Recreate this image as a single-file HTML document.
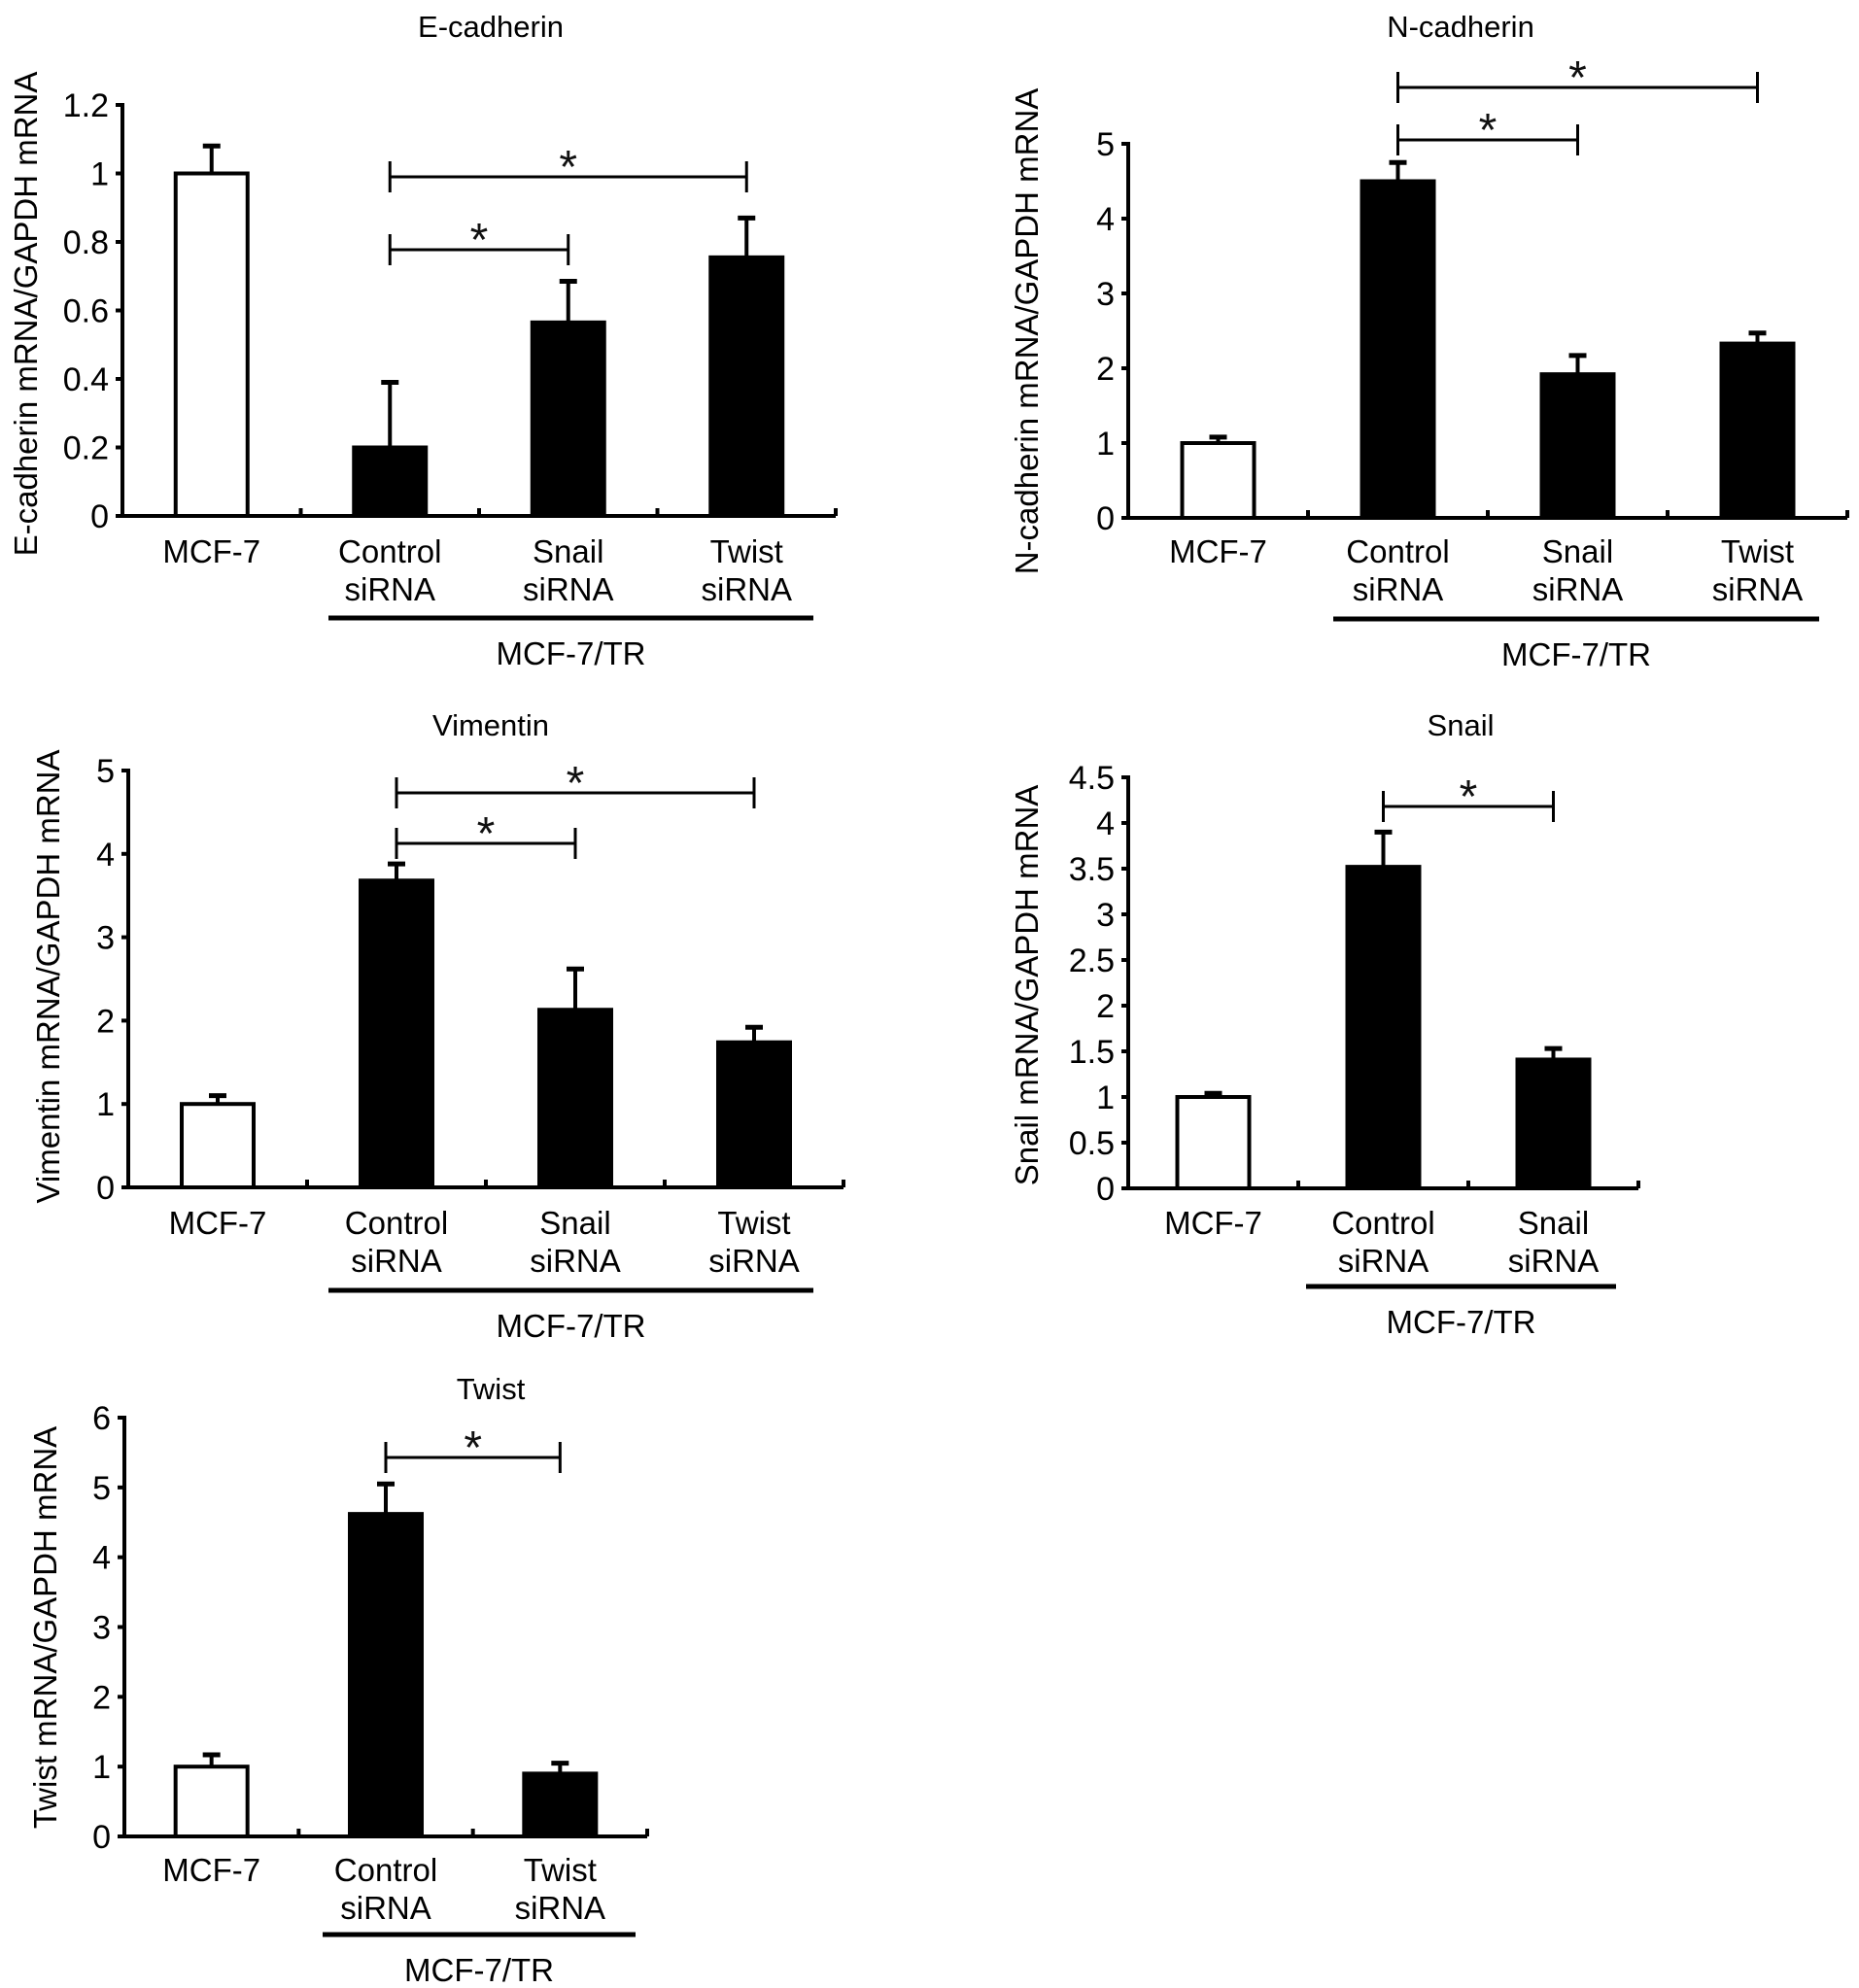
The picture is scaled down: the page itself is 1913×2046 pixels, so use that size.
<!DOCTYPE html>
<html><head><meta charset="utf-8"><style>
html,body{margin:0;padding:0;background:#fff;}
svg{display:block;font-family:"Liberation Sans",Arial,sans-serif;}
</style></head><body>
<svg id="fig" width="1913" height="2046" viewBox="0 0 1913 2046" xmlns="http://www.w3.org/2000/svg"></svg>
<script>
const ecadValues=[1.0,0.2,0.565,0.755];
const ecadErrors=[0.08,0.19,0.12,0.115];
const ecadCats=[["MCF-7"],["Control","siRNA"],["Snail","siRNA"],["Twist","siRNA"]];
const ecadTicks=["0","0.2","0.4","0.6","0.8","1","1.2"];
const ncadValues=[1.0,4.5,1.92,2.33];
const ncadErrors=[0.08,0.25,0.25,0.14];
const ncadCats=[["MCF-7"],["Control","siRNA"],["Snail","siRNA"],["Twist","siRNA"]];
const ncadTicks=["0","1","2","3","4","5"];
const vimValues=[1.0,3.68,2.13,1.74];
const vimErrors=[0.1,0.2,0.49,0.18];
const vimCats=[["MCF-7"],["Control","siRNA"],["Snail","siRNA"],["Twist","siRNA"]];
const vimTicks=["0","1","2","3","4","5"];
const snailValues=[1.0,3.52,1.41];
const snailErrors=[0.04,0.38,0.12];
const snailCats=[["MCF-7"],["Control","siRNA"],["Snail","siRNA"]];
const snailTicks=["0","0.5","1","1.5","2","2.5","3","3.5","4","4.5"];
const twistValues=[1.0,4.62,0.9];
const twistErrors=[0.17,0.43,0.15];
const twistCats=[["MCF-7"],["Control","siRNA"],["Twist","siRNA"]];
const twistTicks=["0","1","2","3","4","5","6"];

const NS="http://www.w3.org/2000/svg";
const svg=document.getElementById('fig');
function mk(tag,attrs,parent,txt){const e=document.createElementNS(NS,tag);for(const k in attrs)e.setAttribute(k,attrs[k]);if(txt!==undefined)e.textContent=txt;parent.appendChild(e);return e;}

function panel(cfg){
  const g=mk('g',{},svg);
  
  
  const n=cfg.values.length;
  const cw=(cfg.xEnd-cfg.x0)/n;
  const ymax=parseFloat(cfg.ticks[cfg.ticks.length-1]);
  const ys=v=>cfg.y0-(v/ymax)*(cfg.y0-cfg.yTop);
  const xc=i=>cfg.x0+cw*(i+0.5);
  const t=mk('text',{x:cfg.titleX,y:cfg.titleY+11,'font-size':31,'text-anchor':'middle'},g,cfg.title);
  
  
  const yl=mk('text',{x:0,y:0,'font-size':33,'text-anchor':'middle',transform:`translate(${cfg.ylX+12},${cfg.ylY}) rotate(-90)`},g,cfg.ylabel);
  
  
  mk('line',{x1:cfg.x0,y1:cfg.yTop-2,x2:cfg.x0,y2:cfg.y0+2,stroke:'#000','stroke-width':4},g);
  mk('line',{x1:cfg.x0,y1:cfg.y0,x2:cfg.xEnd,y2:cfg.y0,stroke:'#000','stroke-width':4},g);
  cfg.ticks.forEach(tk=>{
    const y=ys(parseFloat(tk));
    mk('line',{x1:cfg.x0-7,y1:y,x2:cfg.x0,y2:y,stroke:'#000','stroke-width':4},g);
    const tl=mk('text',{x:cfg.x0-14,y:y+12,'font-size':34,'text-anchor':'end'},g,tk);
    
    
  });
  for(let i=1;i<=n;i++){const x=cfg.x0+cw*i;mk('line',{x1:x,y1:cfg.y0-8,x2:x,y2:cfg.y0,stroke:'#000','stroke-width':4},g);}
  const bw=74;
  cfg.values.forEach((v,i)=>{
    const x=xc(i),y=ys(v),ye=ys(v+cfg.errors[i]);
    mk('line',{x1:x,y1:y,x2:x,y2:ye,stroke:'#000','stroke-width':4},g);
    mk('line',{x1:x-9,y1:ye,x2:x+9,y2:ye,stroke:'#000','stroke-width':5},g);
    const b=mk('rect',{x:x-bw/2,y:y,width:bw,height:cfg.y0-y,fill:i===0?'#fff':'#000',stroke:'#000','stroke-width':4},g);
    
    
    cfg.cats[i].forEach((ln,j)=>{
      const c=mk('text',{x:x,y:cfg.labY+12+j*39,'font-size':33,'text-anchor':'middle'},g,ln);
      
      
    });
  });
  const gl=mk('line',{x1:cfg.grpX1,y1:cfg.grpY,x2:cfg.grpX2,y2:cfg.grpY,stroke:'#000','stroke-width':5},g);
  
  
  const gt=mk('text',{x:(cfg.grpX1+cfg.grpX2)/2,y:cfg.grpY+48,'font-size':33,'text-anchor':'middle'},g,'MCF-7/TR');
  
  
  cfg.brackets.forEach(br=>{
    const a=xc(br[0]),b=xc(br[1]),y=br[2];
    const bg=mk('g',{},g);
    
    
    mk('line',{x1:a,y1:y,x2:b,y2:y,stroke:'#000','stroke-width':3},bg);
    mk('line',{x1:a,y1:y-16,x2:a,y2:y+16,stroke:'#000','stroke-width':3},bg);
    mk('line',{x1:b,y1:y-16,x2:b,y2:y+16,stroke:'#000','stroke-width':3},bg);
    mk('text',{x:(a+b)/2,y:y+6,'font-size':48,'text-anchor':'middle',fill:'#111'},bg,'*');
  });
}
panel({name:'e-cadherin',title:'E-cadherin',titleX:505,titleY:27,ylabel:'E-cadherin mRNA/GAPDH mRNA',ylX:26,ylY:323,
  x0:126,xEnd:860,y0:531,yTop:108,values:ecadValues,errors:ecadErrors,cats:ecadCats,ticks:ecadTicks,
  labY:567,grpX1:338,grpX2:837,grpY:636,brackets:[[1,2,257],[1,3,182]]});
panel({name:'n-cadherin',title:'N-cadherin',titleX:1503,titleY:27,ylabel:'N-cadherin mRNA/GAPDH mRNA',ylX:1056,ylY:341,
  x0:1161,xEnd:1901,y0:533,yTop:148,values:ncadValues,errors:ncadErrors,cats:ncadCats,ticks:ncadTicks,
  labY:567,grpX1:1372,grpX2:1872,grpY:637,brackets:[[1,2,144],[1,3,90]]});
panel({name:'vimentin',title:'Vimentin',titleX:505,titleY:746,ylabel:'Vimentin mRNA/GAPDH mRNA',ylX:49,ylY:1005,
  x0:132,xEnd:868,y0:1222,yTop:793,values:vimValues,errors:vimErrors,cats:vimCats,ticks:vimTicks,
  labY:1258,grpX1:338,grpX2:837,grpY:1328,brackets:[[1,2,868],[1,3,816]]});
panel({name:'snail',title:'Snail',titleX:1503,titleY:746,ylabel:'Snail mRNA/GAPDH mRNA',ylX:1056,ylY:1014,
  x0:1161,xEnd:1686,y0:1223,yTop:800,values:snailValues,errors:snailErrors,cats:snailCats,ticks:snailTicks,
  labY:1258,grpX1:1344,grpX2:1663,grpY:1324,brackets:[[1,2,830]]});
panel({name:'twist',title:'Twist',titleX:505,titleY:1429,ylabel:'Twist mRNA/GAPDH mRNA',ylX:46,ylY:1675,
  x0:128,xEnd:666,y0:1890,yTop:1459,values:twistValues,errors:twistErrors,cats:twistCats,ticks:twistTicks,
  labY:1924,grpX1:332,grpX2:654,grpY:1991,brackets:[[1,2,1500]]});
</script>
</body></html>
